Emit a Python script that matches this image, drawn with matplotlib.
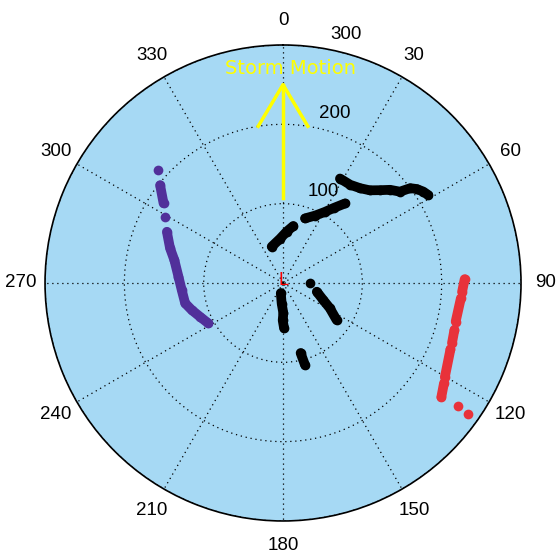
import numpy as np
import matplotlib.pyplot as plt

plt.rcParams['font.family'] = ['Liberation Sans', 'DejaVu Sans']

# tracks: azimuth (deg clockwise from north) and range
# nan breaks a track where it has a gap
black1_az = [28.6, 34.4, 39.1, 43.1, 46.2, 49.0, 52.0, 53.3, 54.9, 56.9, 58.8]
black1_rng = [150, 150, 154, 160, 169, 179, 187, 200, 206, 211, 214]

black2_az = [342.7, 356.2, 4.1, 10.2, np.nan, 18.8, 25.4, 30.5, 34.0, 37.9]
black2_rng = [48, 56, 65, 73, np.nan, 86, 94, 104, 114, 127]

black3_az = [89.4, np.nan, 104.5, 112.9, 118.3, 124.6]
black3_rng = [34, np.nan, 44, 55, 67, 82]

black4_az = [192.6, 183.7, 179.4, 180.5, 178.7]
black4_rng = [13, 26, 38, 47, 57]

black5_az = [165.9, 165.0]
black5_rng = [91, 107]

purple_az = [312.2, np.nan, 308.5, 303.7, np.nan, 299.3, np.nan, 293.8, 287.1,
             281.9, 273.4, 266.0, 258.3, 253.5, 247.9, 241.6]
purple_rng = [212, np.nan, 198, 181, np.nan, 170, np.nan, 160, 149,
              140, 132, 128, 126, 120, 113, 107]

red_az = [88.8, 92.8, np.nan, 94.9, 102.6, np.nan, 105.3, 109.5, np.nan,
          111.6, 120.2, np.nan, 121.9, 125.8, np.nan, 125.2, np.nan, 125.3]
red_rng = [229, 226, np.nan, 225, 223, np.nan, 224, 226, np.nan,
           227, 236, np.nan, 239, 246, np.nan, 270, np.nan, 285]

# storm motion arrow
shaft_az = [0, 0]
shaft_rng = [107, 250]
head_az = [-9, 0, 9]
head_rng = [200, 250, 200]

rticks = [100, 200, 300]
thetaticks = np.arange(0, 360, 30)

fig = plt.figure(figsize=(5.6, 5.52), dpi=100)
ax = fig.add_axes([0.0804, 0.0562, 0.85, 0.8623], projection='polar')
ax.set_theta_zero_location('N')
ax.set_theta_direction(-1)
ax.set_facecolor('#a6d9f4')
ax.set_ylim(0, 300)
ax.set_yticks(rticks)
ax.set_yticklabels([])
ax.set_xticks(np.radians(thetaticks))
ax.set_xticklabels([str(t) for t in thetaticks], fontsize=13.5)
ax.tick_params(axis='x', pad=7)
ax.grid(True, color='black', linestyle=(0, (1, 3)), linewidth=0.9)
ax.spines['polar'].set_linewidth(1.2)

for r in rticks:
    ax.annotate(str(r), xy=(np.radians(8), r), xytext=(14, 4),
                textcoords='offset pixels', ha='left', va='bottom',
                fontsize=13.5)

kw = dict(linestyle='-', marker='o', ms=7, mew=0, lw=7,
          solid_capstyle='round', solid_joinstyle='round')
for az, rng in [(black1_az, black1_rng), (black2_az, black2_rng),
                (black3_az, black3_rng), (black4_az, black4_rng),
                (black5_az, black5_rng)]:
    ax.plot(np.radians(az), rng, color='black', **kw)
ax.plot(np.radians(purple_az), purple_rng, color='#51309a', **kw)
ax.plot(np.radians(red_az), red_rng, color='#e8323a', **kw)

ax.plot(np.radians(shaft_az), shaft_rng, color='#ffff00', lw=2.5)
ax.plot(np.radians(head_az), head_rng, color='#ffff00', lw=2.5)
ax.text(np.radians(1.9), 271, 'Storm Motion', color='#ffff00', fontsize=14,
        family='DejaVu Sans', ha='center', va='center')

ax.plot([0], [0], marker='o', ms=3, mfc='none', mec='#333333', mew=0.6)
ax.annotate('L', xy=(0, 0), xytext=(0, -2), textcoords='offset pixels',
            color='red', fontsize=13, ha='center', va='baseline')

fig.savefig('out.png', dpi=100)
